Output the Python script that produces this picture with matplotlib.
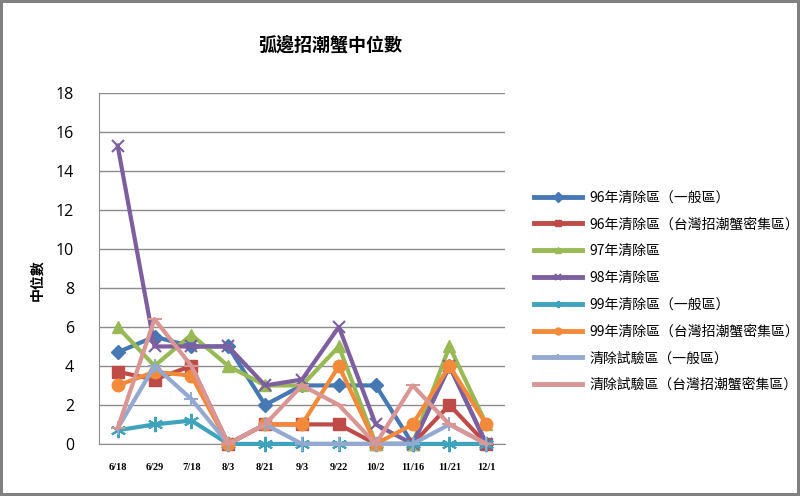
import matplotlib
matplotlib.use("Agg")
import matplotlib.pyplot as plt

categories = ["6/18", "6/29", "7/18", "8/3", "8/21", "9/3", "9/22", "10/2", "11/16", "11/21", "12/1"]
s96_general = [4.7, 5.5, 5.0, 5.0, 2.0, 3.0, 3.0, 3.0, 0.0, 4.0, 0.0]
s96_dense = [3.7, 3.3, 4.0, 0.0, 1.0, 1.0, 1.0, 0.0, 0.0, 2.0, 0.0]
s97 = [6.0, 4.0, 5.6, 4.0, 3.0, 3.0, 5.0, 0.0, 0.0, 5.0, 1.0]
s98 = [15.3, 5.0, 5.0, 5.0, 3.0, 3.3, 6.0, 1.0, 0.0, 4.0, 0.0]
s99_general = [0.7, 1.0, 1.2, 0.0, 0.0, 0.0, 0.0, 0.0, 0.0, 0.0, 0.0]
s99_dense = [3.0, 3.7, 3.5, 0.0, 1.0, 1.0, 4.0, 0.0, 1.0, 4.0, 1.0]
trial_general = [0.8, 4.0, 2.3, 0.0, 1.0, 0.0, 0.0, 0.0, 0.0, 1.0, 0.0]
trial_dense = [0.8, 6.4, 4.0, 0.0, 1.0, 3.0, 2.0, 0.0, 3.0, 1.0, 0.0]

labels = ["96年清除區（一般區）", "96年清除區（台灣招潮蟹密集區）", "97年清除區", "98年清除區",
          "99年清除區（一般區）", "99年清除區（台灣招潮蟹密集區）", "清除試驗區（一般區）", "清除試驗區（台灣招潮蟹密集區）"]
series = [s96_general, s96_dense, s97, s98, s99_general, s99_dense, trial_general, trial_dense]
colors = ["#4679B4", "#BE4B48", "#98B954", "#7D5FA0", "#3FA3BC", "#F38A3A", "#93A9CF", "#D99694"]
markers = ["D", "s", "^", "x", (6, 2, 0), "o", "+", "_"]
msizes = [7, 9, 9, 9, 11, 9, 10, 10]

cjk = ["Noto Sans CJK TC", "DejaVu Sans"]

fig = plt.figure(figsize=(8, 4.96), dpi=100)
fig.patch.set_facecolor("white")
fig.patch.set_edgecolor("#808080")
fig.patch.set_linewidth(3)

ax = fig.add_axes([0.124, 0.105, 0.507, 0.7075])
x = list(range(len(categories)))
for vals, lab, c, m, ms in zip(series, labels, colors, markers, msizes):
    mew = 1.5 if m in ("x", "+", "_") or isinstance(m, tuple) else 1.0
    ax.plot(x, vals, color=c, lw=3, marker=m, markersize=ms, markeredgewidth=mew,
            markerfacecolor=c, markeredgecolor=c, label=lab, clip_on=False, zorder=3)

ax.set_xlim(-0.5, len(categories) - 0.5)
ax.set_ylim(0, 18)
ax.set_yticks(range(0, 19, 2))
ax.set_xticks(x)
ax.set_xticklabels(categories, fontfamily="Liberation Serif", fontweight="bold", fontsize=7.5)
for t in ax.get_yticklabels():
    t.set_fontfamily("Open Sans")
    t.set_fontsize(11.5)
ax.tick_params(axis="x", length=0, pad=14)
ax.tick_params(axis="y", length=0, pad=18)
ax.grid(axis="y", color="#8C8C8C", lw=1)
ax.set_axisbelow(True)
for sp in ["top", "right"]:
    ax.spines[sp].set_visible(False)
ax.spines["left"].set_color("#8C8C8C")
ax.spines["bottom"].set_color("#8C8C8C")

fig.text(0.4125, 0.91, "弧邊招潮蟹中位數", ha="center", va="center", fontsize=13,
         fontweight="bold", family=cjk)
fig.text(0.047, 0.435, "中位數", rotation=90, ha="center", va="center", fontsize=10,
         fontweight="bold", family=cjk)

leg = ax.legend(loc="upper left", bbox_to_anchor=(0.66, 0.627), bbox_transform=fig.transFigure,
                frameon=False, prop={"family": cjk, "size": 10}, handlelength=3.5,
                labelspacing=0.92, handletextpad=0.5, borderaxespad=0)
for h in leg.legend_handles:
    h.set_markersize(5)
    h.set_linewidth(3.5)

fig.savefig("out.png", dpi=100)
